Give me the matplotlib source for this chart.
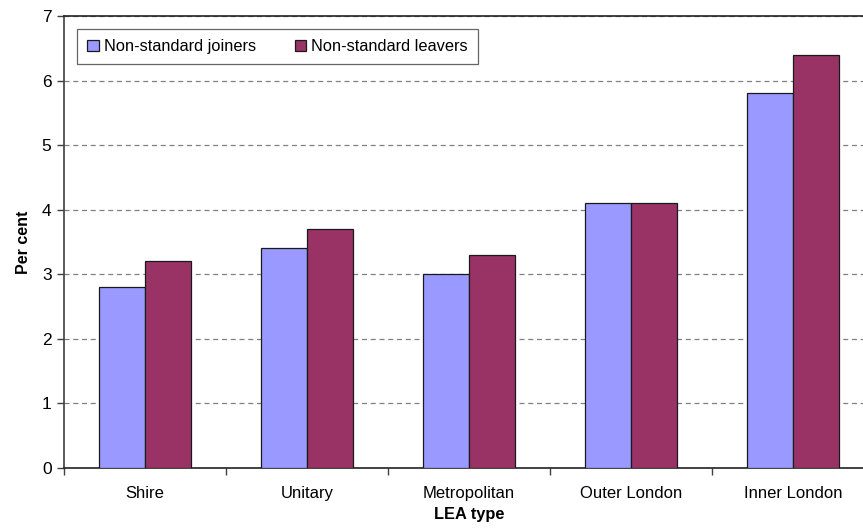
import matplotlib
matplotlib.use("Agg")
import matplotlib.pyplot as plt
import numpy as np

categories = ["Shire", "Unitary", "Metropolitan", "Outer London", "Inner London"]
joiners = [2.8, 3.4, 3.0, 4.1, 5.8]
leavers = [3.2, 3.7, 3.3, 4.1, 6.4]
series_names = ["Non-standard joiners", "Non-standard leavers"]

plt.rcParams["font.family"] = ["Liberation Sans", "DejaVu Sans"]

fig = plt.figure(figsize=(8.63, 5.29), dpi=100)
# plot area runs slightly past the right edge of the figure
ax = fig.add_axes([64 / 863, 1 - 468 / 529, 810 / 863, 452 / 529])

x = np.arange(len(categories))
w = 0.287
ax.bar(x - w / 2, joiners, w, color="#9999FF", edgecolor="#1a1a1a", linewidth=0.9,
       label=series_names[0], zorder=3)
ax.bar(x + w / 2, leavers, w, color="#993366", edgecolor="#1a1a1a", linewidth=0.9,
       label=series_names[1], zorder=3)

ax.set_xlim(-0.5, len(categories) - 0.5)
ax.set_ylim(0, 7)
ax.set_yticks(range(0, 8))
ax.yaxis.grid(True, linestyle=(0, (4, 3)), color="#808080", linewidth=0.9, zorder=0)
ax.set_axisbelow(True)

# category labels centred, tick marks at the category boundaries
ax.set_xticks(x)
ax.set_xticklabels(categories, fontsize=12)
ax.tick_params(axis="x", which="major", length=0, pad=13)
ax.set_xticks(np.arange(-0.5, len(categories) + 0.5, 1), minor=True)
ax.tick_params(axis="x", which="minor", length=5, width=1, color="#404040")
ax.tick_params(axis="y", length=5, width=1, color="#404040", labelsize=12.5, pad=4)

for side in ["left", "bottom", "top", "right"]:
    ax.spines[side].set_color("#222222")
    ax.spines[side].set_linewidth(1.2)
ax.spines["left"].set_color("#404040")

ax.set_ylabel("Per cent", fontsize=11.5, fontweight="bold", labelpad=8)
ax.set_xlabel("LEA type", fontsize=11.8, fontweight="bold", labelpad=4)

leg = ax.legend(loc="upper left", bbox_to_anchor=(13 / 810, 1 - 13 / 452), ncol=2,
                frameon=True, fancybox=False, fontsize=11.8, handlelength=0.7,
                handleheight=0.7, handletextpad=0.3, columnspacing=2.4,
                borderpad=0.62, borderaxespad=0)
leg.get_frame().set_edgecolor("#404040")
leg.get_frame().set_linewidth(0.9)

fig.savefig("out.png", dpi=100)
